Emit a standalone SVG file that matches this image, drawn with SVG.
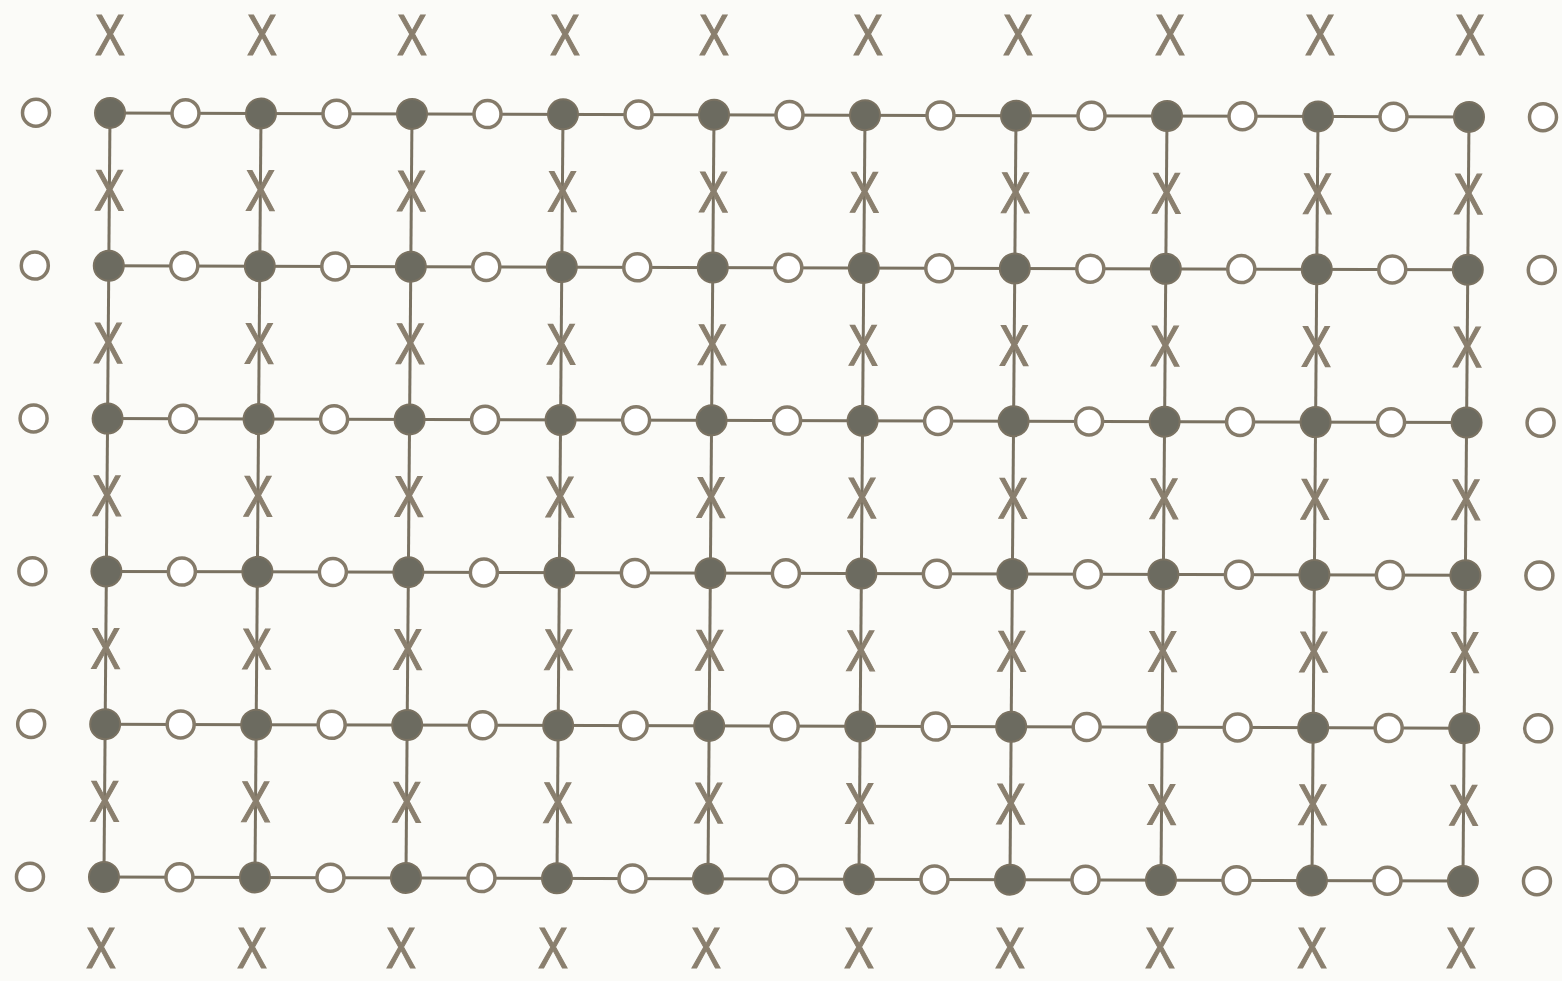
<svg xmlns="http://www.w3.org/2000/svg" width="1562" height="981" viewBox="0 0 1562 981">
<style>
.bg{fill:#fbfbf8}
.ln{stroke:#7a7262;stroke-width:3;fill:none}
.dot{fill:#6c6b60;stroke:#7a7262;stroke-width:2}
.oc{fill:#ffffff;stroke:#857b6a;stroke-width:3.5}
.x{font-family:"Liberation Sans",Arial,sans-serif;font-size:58px;fill:#8a7f6e;stroke:#8a7f6e;stroke-width:1.2;text-anchor:middle}
</style>
<defs>
<circle id="dot" r="15" class="dot"/>
<circle id="oc" r="13.5" class="oc"/>
</defs>
<rect class="bg" x="0" y="0" width="1562" height="981"/>
<g id="top-x">
<text class="x" textLength="30" lengthAdjust="spacingAndGlyphs" x="110" y="55">X</text>
<text class="x" textLength="30" lengthAdjust="spacingAndGlyphs" x="262" y="55">X</text>
<text class="x" textLength="30" lengthAdjust="spacingAndGlyphs" x="412" y="55">X</text>
<text class="x" textLength="30" lengthAdjust="spacingAndGlyphs" x="565" y="55">X</text>
<text class="x" textLength="30" lengthAdjust="spacingAndGlyphs" x="714" y="55">X</text>
<text class="x" textLength="30" lengthAdjust="spacingAndGlyphs" x="868" y="55">X</text>
<text class="x" textLength="30" lengthAdjust="spacingAndGlyphs" x="1018" y="55">X</text>
<text class="x" textLength="30" lengthAdjust="spacingAndGlyphs" x="1170" y="55">X</text>
<text class="x" textLength="30" lengthAdjust="spacingAndGlyphs" x="1320" y="55">X</text>
<text class="x" textLength="30" lengthAdjust="spacingAndGlyphs" x="1470" y="55">X</text>
</g>
<g id="bottom-x">
<text class="x" textLength="30" lengthAdjust="spacingAndGlyphs" x="101" y="968">X</text>
<text class="x" textLength="30" lengthAdjust="spacingAndGlyphs" x="252" y="968">X</text>
<text class="x" textLength="30" lengthAdjust="spacingAndGlyphs" x="401" y="968">X</text>
<text class="x" textLength="30" lengthAdjust="spacingAndGlyphs" x="553" y="968">X</text>
<text class="x" textLength="30" lengthAdjust="spacingAndGlyphs" x="706" y="968">X</text>
<text class="x" textLength="30" lengthAdjust="spacingAndGlyphs" x="859" y="968">X</text>
<text class="x" textLength="30" lengthAdjust="spacingAndGlyphs" x="1010" y="968">X</text>
<text class="x" textLength="30" lengthAdjust="spacingAndGlyphs" x="1160" y="968">X</text>
<text class="x" textLength="30" lengthAdjust="spacingAndGlyphs" x="1312" y="968">X</text>
<text class="x" textLength="30" lengthAdjust="spacingAndGlyphs" x="1461" y="968">X</text>
</g>
<g transform="matrix(1,0.0029,-0.0079,1,110,113)">
<g id="connectors">
<line class="ln" x1="0" y1="0" x2="1359" y2="0"/>
<line class="ln" x1="0" y1="152.8" x2="1359" y2="152.8"/>
<line class="ln" x1="0" y1="305.6" x2="1359" y2="305.6"/>
<line class="ln" x1="0" y1="458.4" x2="1359" y2="458.4"/>
<line class="ln" x1="0" y1="611.2" x2="1359" y2="611.2"/>
<line class="ln" x1="0" y1="764" x2="1359" y2="764"/>
<line class="ln" x1="0" y1="0" x2="0" y2="764"/>
<line class="ln" x1="151" y1="0" x2="151" y2="764"/>
<line class="ln" x1="302" y1="0" x2="302" y2="764"/>
<line class="ln" x1="453" y1="0" x2="453" y2="764"/>
<line class="ln" x1="604" y1="0" x2="604" y2="764"/>
<line class="ln" x1="755" y1="0" x2="755" y2="764"/>
<line class="ln" x1="906" y1="0" x2="906" y2="764"/>
<line class="ln" x1="1057" y1="0" x2="1057" y2="764"/>
<line class="ln" x1="1208" y1="0" x2="1208" y2="764"/>
<line class="ln" x1="1359" y1="0" x2="1359" y2="764"/>
</g>
<g id="side-circles">
<use id="L0" href="#oc" x="-74" y="0"/><use id="L1" href="#oc" x="-74" y="152.8"/><use id="L2" href="#oc" x="-74" y="305.6"/><use id="L3" href="#oc" x="-74" y="458.4"/><use id="L4" href="#oc" x="-74" y="611.2"/><use id="L5" href="#oc" x="-74" y="764"/>
<use id="R0" href="#oc" x="1433" y="0"/><use id="R1" href="#oc" x="1433" y="152.8"/><use id="R2" href="#oc" x="1433" y="305.6"/><use id="R3" href="#oc" x="1433" y="458.4"/><use id="R4" href="#oc" x="1433" y="611.2"/><use id="R5" href="#oc" x="1433" y="764"/>
</g>
<g id="inner-x">
<text class="x" textLength="30" lengthAdjust="spacingAndGlyphs" x="0" y="97.2">X</text><text class="x" textLength="30" lengthAdjust="spacingAndGlyphs" x="151" y="97.2">X</text><text class="x" textLength="30" lengthAdjust="spacingAndGlyphs" x="302" y="97.2">X</text><text class="x" textLength="30" lengthAdjust="spacingAndGlyphs" x="453" y="97.2">X</text><text class="x" textLength="30" lengthAdjust="spacingAndGlyphs" x="604" y="97.2">X</text><text class="x" textLength="30" lengthAdjust="spacingAndGlyphs" x="755" y="97.2">X</text><text class="x" textLength="30" lengthAdjust="spacingAndGlyphs" x="906" y="97.2">X</text><text class="x" textLength="30" lengthAdjust="spacingAndGlyphs" x="1057" y="97.2">X</text><text class="x" textLength="30" lengthAdjust="spacingAndGlyphs" x="1208" y="97.2">X</text><text class="x" textLength="30" lengthAdjust="spacingAndGlyphs" x="1359" y="97.2">X</text>
<text class="x" textLength="30" lengthAdjust="spacingAndGlyphs" x="0" y="250">X</text><text class="x" textLength="30" lengthAdjust="spacingAndGlyphs" x="151" y="250">X</text><text class="x" textLength="30" lengthAdjust="spacingAndGlyphs" x="302" y="250">X</text><text class="x" textLength="30" lengthAdjust="spacingAndGlyphs" x="453" y="250">X</text><text class="x" textLength="30" lengthAdjust="spacingAndGlyphs" x="604" y="250">X</text><text class="x" textLength="30" lengthAdjust="spacingAndGlyphs" x="755" y="250">X</text><text class="x" textLength="30" lengthAdjust="spacingAndGlyphs" x="906" y="250">X</text><text class="x" textLength="30" lengthAdjust="spacingAndGlyphs" x="1057" y="250">X</text><text class="x" textLength="30" lengthAdjust="spacingAndGlyphs" x="1208" y="250">X</text><text class="x" textLength="30" lengthAdjust="spacingAndGlyphs" x="1359" y="250">X</text>
<text class="x" textLength="30" lengthAdjust="spacingAndGlyphs" x="0" y="402.8">X</text><text class="x" textLength="30" lengthAdjust="spacingAndGlyphs" x="151" y="402.8">X</text><text class="x" textLength="30" lengthAdjust="spacingAndGlyphs" x="302" y="402.8">X</text><text class="x" textLength="30" lengthAdjust="spacingAndGlyphs" x="453" y="402.8">X</text><text class="x" textLength="30" lengthAdjust="spacingAndGlyphs" x="604" y="402.8">X</text><text class="x" textLength="30" lengthAdjust="spacingAndGlyphs" x="755" y="402.8">X</text><text class="x" textLength="30" lengthAdjust="spacingAndGlyphs" x="906" y="402.8">X</text><text class="x" textLength="30" lengthAdjust="spacingAndGlyphs" x="1057" y="402.8">X</text><text class="x" textLength="30" lengthAdjust="spacingAndGlyphs" x="1208" y="402.8">X</text><text class="x" textLength="30" lengthAdjust="spacingAndGlyphs" x="1359" y="402.8">X</text>
<text class="x" textLength="30" lengthAdjust="spacingAndGlyphs" x="0" y="555.6">X</text><text class="x" textLength="30" lengthAdjust="spacingAndGlyphs" x="151" y="555.6">X</text><text class="x" textLength="30" lengthAdjust="spacingAndGlyphs" x="302" y="555.6">X</text><text class="x" textLength="30" lengthAdjust="spacingAndGlyphs" x="453" y="555.6">X</text><text class="x" textLength="30" lengthAdjust="spacingAndGlyphs" x="604" y="555.6">X</text><text class="x" textLength="30" lengthAdjust="spacingAndGlyphs" x="755" y="555.6">X</text><text class="x" textLength="30" lengthAdjust="spacingAndGlyphs" x="906" y="555.6">X</text><text class="x" textLength="30" lengthAdjust="spacingAndGlyphs" x="1057" y="555.6">X</text><text class="x" textLength="30" lengthAdjust="spacingAndGlyphs" x="1208" y="555.6">X</text><text class="x" textLength="30" lengthAdjust="spacingAndGlyphs" x="1359" y="555.6">X</text>
<text class="x" textLength="30" lengthAdjust="spacingAndGlyphs" x="0" y="708.4">X</text><text class="x" textLength="30" lengthAdjust="spacingAndGlyphs" x="151" y="708.4">X</text><text class="x" textLength="30" lengthAdjust="spacingAndGlyphs" x="302" y="708.4">X</text><text class="x" textLength="30" lengthAdjust="spacingAndGlyphs" x="453" y="708.4">X</text><text class="x" textLength="30" lengthAdjust="spacingAndGlyphs" x="604" y="708.4">X</text><text class="x" textLength="30" lengthAdjust="spacingAndGlyphs" x="755" y="708.4">X</text><text class="x" textLength="30" lengthAdjust="spacingAndGlyphs" x="906" y="708.4">X</text><text class="x" textLength="30" lengthAdjust="spacingAndGlyphs" x="1057" y="708.4">X</text><text class="x" textLength="30" lengthAdjust="spacingAndGlyphs" x="1208" y="708.4">X</text><text class="x" textLength="30" lengthAdjust="spacingAndGlyphs" x="1359" y="708.4">X</text>
</g>
<g id="open-circles">
<use href="#oc" x="75.5" y="0"/><use href="#oc" x="226.5" y="0"/><use href="#oc" x="377.5" y="0"/><use href="#oc" x="528.5" y="0"/><use href="#oc" x="679.5" y="0"/><use href="#oc" x="830.5" y="0"/><use href="#oc" x="981.5" y="0"/><use href="#oc" x="1132.5" y="0"/><use href="#oc" x="1283.5" y="0"/>
<use href="#oc" x="75.5" y="152.8"/><use href="#oc" x="226.5" y="152.8"/><use href="#oc" x="377.5" y="152.8"/><use href="#oc" x="528.5" y="152.8"/><use href="#oc" x="679.5" y="152.8"/><use href="#oc" x="830.5" y="152.8"/><use href="#oc" x="981.5" y="152.8"/><use href="#oc" x="1132.5" y="152.8"/><use href="#oc" x="1283.5" y="152.8"/>
<use href="#oc" x="75.5" y="305.6"/><use href="#oc" x="226.5" y="305.6"/><use href="#oc" x="377.5" y="305.6"/><use href="#oc" x="528.5" y="305.6"/><use href="#oc" x="679.5" y="305.6"/><use href="#oc" x="830.5" y="305.6"/><use href="#oc" x="981.5" y="305.6"/><use href="#oc" x="1132.5" y="305.6"/><use href="#oc" x="1283.5" y="305.6"/>
<use href="#oc" x="75.5" y="458.4"/><use href="#oc" x="226.5" y="458.4"/><use href="#oc" x="377.5" y="458.4"/><use href="#oc" x="528.5" y="458.4"/><use href="#oc" x="679.5" y="458.4"/><use href="#oc" x="830.5" y="458.4"/><use href="#oc" x="981.5" y="458.4"/><use href="#oc" x="1132.5" y="458.4"/><use href="#oc" x="1283.5" y="458.4"/>
<use href="#oc" x="75.5" y="611.2"/><use href="#oc" x="226.5" y="611.2"/><use href="#oc" x="377.5" y="611.2"/><use href="#oc" x="528.5" y="611.2"/><use href="#oc" x="679.5" y="611.2"/><use href="#oc" x="830.5" y="611.2"/><use href="#oc" x="981.5" y="611.2"/><use href="#oc" x="1132.5" y="611.2"/><use href="#oc" x="1283.5" y="611.2"/>
<use href="#oc" x="75.5" y="764"/><use href="#oc" x="226.5" y="764"/><use href="#oc" x="377.5" y="764"/><use href="#oc" x="528.5" y="764"/><use href="#oc" x="679.5" y="764"/><use href="#oc" x="830.5" y="764"/><use href="#oc" x="981.5" y="764"/><use href="#oc" x="1132.5" y="764"/><use href="#oc" x="1283.5" y="764"/>
</g>
<g id="dots">
<use href="#dot" x="0" y="0"/><use href="#dot" x="151" y="0"/><use href="#dot" x="302" y="0"/><use href="#dot" x="453" y="0"/><use href="#dot" x="604" y="0"/><use href="#dot" x="755" y="0"/><use href="#dot" x="906" y="0"/><use href="#dot" x="1057" y="0"/><use href="#dot" x="1208" y="0"/><use href="#dot" x="1359" y="0"/>
<use href="#dot" x="0" y="152.8"/><use href="#dot" x="151" y="152.8"/><use href="#dot" x="302" y="152.8"/><use href="#dot" x="453" y="152.8"/><use href="#dot" x="604" y="152.8"/><use href="#dot" x="755" y="152.8"/><use href="#dot" x="906" y="152.8"/><use href="#dot" x="1057" y="152.8"/><use href="#dot" x="1208" y="152.8"/><use href="#dot" x="1359" y="152.8"/>
<use href="#dot" x="0" y="305.6"/><use href="#dot" x="151" y="305.6"/><use href="#dot" x="302" y="305.6"/><use href="#dot" x="453" y="305.6"/><use href="#dot" x="604" y="305.6"/><use href="#dot" x="755" y="305.6"/><use href="#dot" x="906" y="305.6"/><use href="#dot" x="1057" y="305.6"/><use href="#dot" x="1208" y="305.6"/><use href="#dot" x="1359" y="305.6"/>
<use href="#dot" x="0" y="458.4"/><use href="#dot" x="151" y="458.4"/><use href="#dot" x="302" y="458.4"/><use href="#dot" x="453" y="458.4"/><use href="#dot" x="604" y="458.4"/><use href="#dot" x="755" y="458.4"/><use href="#dot" x="906" y="458.4"/><use href="#dot" x="1057" y="458.4"/><use href="#dot" x="1208" y="458.4"/><use href="#dot" x="1359" y="458.4"/>
<use href="#dot" x="0" y="611.2"/><use href="#dot" x="151" y="611.2"/><use href="#dot" x="302" y="611.2"/><use href="#dot" x="453" y="611.2"/><use href="#dot" x="604" y="611.2"/><use href="#dot" x="755" y="611.2"/><use href="#dot" x="906" y="611.2"/><use href="#dot" x="1057" y="611.2"/><use href="#dot" x="1208" y="611.2"/><use href="#dot" x="1359" y="611.2"/>
<use href="#dot" x="0" y="764"/><use href="#dot" x="151" y="764"/><use href="#dot" x="302" y="764"/><use href="#dot" x="453" y="764"/><use href="#dot" x="604" y="764"/><use href="#dot" x="755" y="764"/><use href="#dot" x="906" y="764"/><use href="#dot" x="1057" y="764"/><use href="#dot" x="1208" y="764"/><use href="#dot" x="1359" y="764"/>
</g>
</g>
</svg>
